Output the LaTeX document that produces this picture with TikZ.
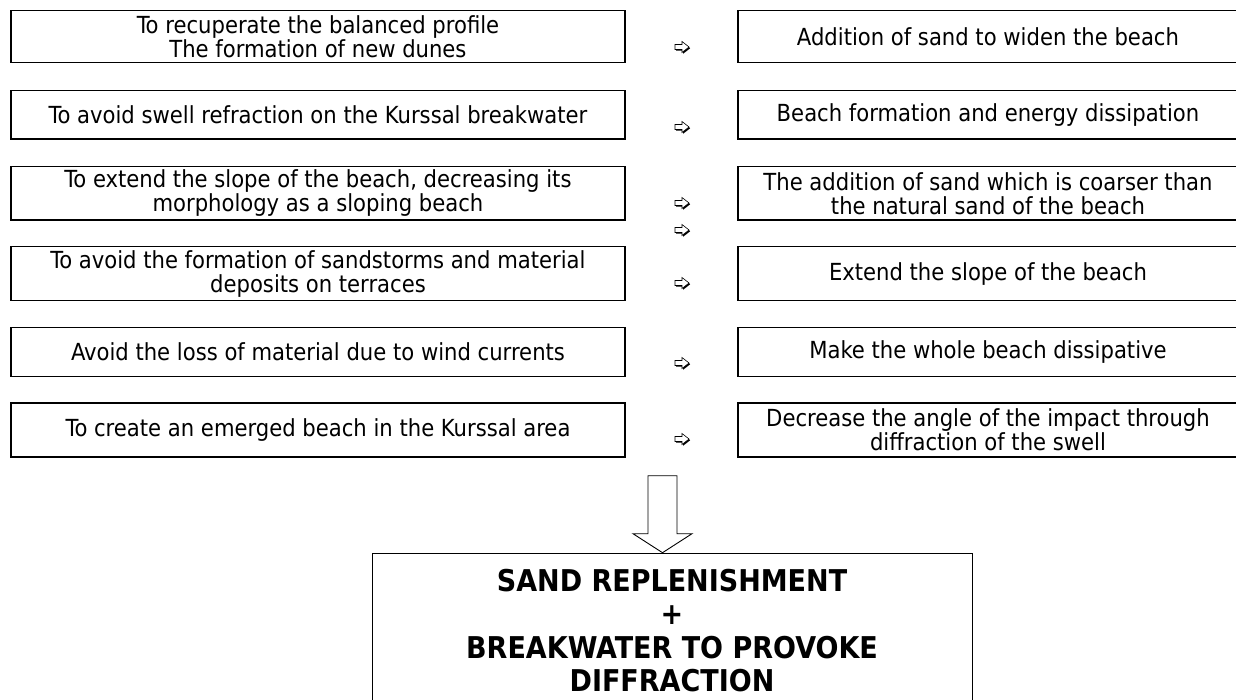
\documentclass[tikz,border=0pt]{standalone}
\usepackage{fontspec}
\setmainfont{DejaVu Sans Condensed}
\begin{document}
\begin{tikzpicture}[x=1pt,y=-1pt,
  lbox/.style={draw, line width=1.6pt, minimum width=614pt, inner sep=0pt,
    align=center, font=\fontsize{23.5}{24}\selectfont},
  rbox/.style={lbox, minimum width=500pt},
  resbox/.style={draw, line width=0.9pt, minimum width=600pt, minimum height=155pt,
    inner sep=0pt, anchor=north, align=center,
    font=\fontsize{30}{33.5}\selectfont\bfseries},
  bigarrow/.style={draw=black, line width=0.9pt, fill=white},
  smallarrow/.pic={
    \fill[black,shift={(1.2,1.2)}] (-7,-2.5)--(0,-2.5)--(0,-5.5)--(7,0)--(0,5.5)--(0,2.5)--(-7,2.5)--cycle;
    \filldraw[fill=white,draw=black,line width=0.6pt] (-7,-2.5)--(0,-2.5)--(0,-5.5)--(7,0)--(0,5.5)--(0,2.5)--(-7,2.5)--cycle;
  }]
\useasboundingbox (0,0) rectangle (1236,700);
\fill[white] (0,0) rectangle (1236,700);

\node[lbox, minimum height=52pt] (l1) at (318,36.7) {To recuperate the balanced profile\\The formation of new dunes};
\node[lbox, minimum height=48.6pt] (l2) at (318,115) {To avoid swell refraction on the Kurssal breakwater};
\node[lbox, minimum height=53.3pt] (l3) at (318,193.3) {To extend the slope of the beach, decreasing its\\morphology as a sloping beach};
\node[lbox, minimum height=54pt] (l4) at (318,273.7) {To avoid the formation of sandstorms and material\\deposits on terraces};
\node[lbox, minimum height=49pt] (l5) at (318,352) {Avoid the loss of material due to wind currents};
\node[lbox, minimum height=53.5pt] (l6) at (318,430) {To create an emerged beach in the Kurssal area};

\node[rbox, minimum height=52pt] (r1) at (988,36.7) {Addition of sand to widen the beach};
\node[rbox, minimum height=48.6pt] (r2) at (988,115) {Beach formation and energy dissipation};
\node[rbox, minimum height=53.3pt] (r3) at (988,193.3) {The addition of sand which is coarser than\\the natural sand of the beach};
\node[rbox, minimum height=54pt] (r4) at (988,273.7) {Extend the slope of the beach};
\node[rbox, minimum height=49pt] (r5) at (988,352) {Make the whole beach dissipative};
\node[rbox, minimum height=53.5pt] (r6) at (988,430) {Decrease the angle of the impact through\\diffraction of the swell};

\pic (a1) at (682,47) {smallarrow};
\pic (a2) at (682,127) {smallarrow};
\pic (a3) at (682,203) {smallarrow};
\pic (a3b) at (682,230) {smallarrow};
\pic (a4) at (682,283) {smallarrow};
\pic (a5) at (682,363) {smallarrow};
\pic (a6) at (682,439) {smallarrow};

\node[resbox] (res) at (672,552.7) {SAND REPLENISHMENT\\+\\BREAKWATER TO PROVOKE\\DIFFRACTION};

\coordinate (tip) at ([xshift=-9.5pt]res.north);
\draw[bigarrow] (tip) -- ++(-29.5,-19) -- ++(15,0) -- ++(0,-58) -- ++(29,0) -- ++(0,58) -- ++(15,0) -- cycle;
\end{tikzpicture}
\end{document}
